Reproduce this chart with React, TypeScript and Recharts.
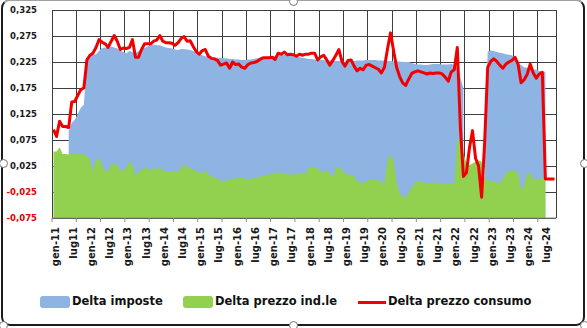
import { ComposedChart, Area, Line, XAxis, YAxis, Legend } from "recharts";

// etichette asse X (una ogni 6 mesi, gen-11 .. lug-24)
const tickLabels = [
  "gen-11", "lug11", "gen-12", "lug12", "gen-13", "lug13", "gen-14", "lug14",
  "gen-15", "lug-15", "gen-16", "lug-16", "gen-17", "lug-17", "gen-18", "lug-18",
  "gen-19", "lug-19", "gen-20", "lug-20", "gen-21", "lug-21", "gen-22", "lug-22",
  "gen-23", "lug-23", "gen-24", "lug-24",
];

const yTicks = [-0.075, -0.025, 0.025, 0.075, 0.125, 0.175, 0.225, 0.275, 0.325];

// Delta imposte (mensile da gen-11)
const imposte: (number | null)[] = [
  null, null, null, null, null, 0.092, 0.108, 0.114, 0.125, 0.137,
  0.143, 0.229, 0.236, 0.239, 0.24, 0.246, 0.252, 0.253, 0.252, 0.255,
  0.253, 0.251, 0.247, 0.244, 0.242, 0.246, 0.244, 0.242, 0.246, 0.249,
  0.252, 0.255, 0.258, 0.258, 0.257, 0.257, 0.255, 0.253, 0.252, 0.251,
  0.249, 0.248, 0.25, 0.25, 0.249, 0.248, 0.246, 0.243, 0.24, 0.238,
  0.236, 0.235, 0.234, 0.233, 0.233, 0.233, 0.232, 0.232, 0.231, 0.231,
  0.23, 0.23, 0.229, 0.229, 0.23, 0.23, 0.231, 0.232, 0.233, 0.233,
  0.234, 0.235, 0.236, 0.237, 0.238, 0.239, 0.239, 0.238, 0.237, 0.236,
  0.235, 0.234, 0.233, 0.232, 0.231, 0.231, 0.23, 0.229, 0.229, 0.229,
  0.228, 0.228, 0.228, 0.227, 0.227, 0.226, 0.226, 0.226, 0.227, 0.227,
  0.228, 0.228, 0.228, 0.229, 0.229, 0.229, 0.229, 0.228, 0.228, 0.228,
  0.227, 0.227, 0.226, 0.226, 0.226, 0.225, 0.225, 0.225, 0.223, 0.221,
  0.22, 0.22, 0.219, 0.219, 0.22, 0.221, 0.221, 0.221, 0.22, 0.22,
  0.22, 0.221, 0.219, 0.215, 0.195, 0.175, null, null, null, null,
  null, null, 0.085, 0.245, 0.247, 0.246, 0.244, 0.243, 0.242, 0.24,
  0.239, 0.238, 0.234, 0.222, 0.219, 0.215, 0.214, 0.213, 0.211, 0.21,
  0.208, 0.207, 0.206,
];

// Delta prezzo ind.le
const prezzoInd: (number | null)[] = [
  0.053, 0.053, 0.061, 0.048, 0.048, 0.047, 0.048, 0.048, 0.048, 0.049,
  0.047, 0.044, 0.037, 0.015, 0.037, 0.039, 0.028, 0.015, 0.016, 0.028,
  0.029, 0.028, 0.016, 0.018, 0.021, 0.033, 0.028, 0.008, 0.013, 0.018,
  0.021, 0.021, 0.015, 0.022, 0.018, 0.022, 0.018, 0.015, 0.015, 0.015,
  0.016, 0.013, 0.021, 0.028, 0.022, 0.021, 0.018, 0.015, 0.013, 0.011,
  0.016, 0.008, 0.005, 0.003, 0.001, -0.003, -0.006, -0.003, -0.001, 0.001,
  0.001, 0.002, 0.003, 0.001, -0.001, 0.001, 0.001, 0.002, 0.005, 0.007,
  0.008, 0.008, 0.01, 0.011, 0.013, 0.011, 0.01, 0.01, 0.008, 0.008,
  0.01, 0.011, 0.012, 0.01, 0.022, 0.022, 0.022, 0.02, 0.013, 0.015,
  0.015, 0.012, 0.004, 0.02, 0.022, 0.018, 0.011, 0.008, 0.008, 0.006,
  -0.005, -0.007, -0.007, -0.005, -0.002, -0.002, -0.002, -0.003, -0.006, -0.008,
  0.035, 0.047, 0.035, -0.008, -0.028, -0.033, -0.036, -0.026, -0.015, -0.008,
  -0.005, -0.003, -0.008, -0.009, -0.007, -0.007, -0.007, -0.007, -0.008, -0.011,
  -0.008, -0.008, -0.008, 0.075, 0.072, 0.05, 0.03, 0.027, 0.03, 0.033,
  0.036, 0.033, 0.001, -0.002, -0.004, -0.005, -0.006, -0.01, 0.001, 0.011,
  0.015, 0.017, 0.015, 0.011, -0.02, -0.015, 0.011, 0.011, -0.001, -0.001,
  0.001, 0.001, 0.001,
];

// Delta prezzo consumo
const consumo: number[] = [
  0.095, 0.082, 0.111, 0.101, 0.101, 0.099, 0.148, 0.149, 0.161, 0.172,
  0.175, 0.229, 0.238, 0.242, 0.253, 0.268, 0.263, 0.26, 0.253, 0.265,
  0.276, 0.265, 0.249, 0.252, 0.251, 0.253, 0.268, 0.234, 0.234, 0.249,
  0.26, 0.26, 0.26, 0.265, 0.267, 0.276, 0.265, 0.262, 0.262, 0.261,
  0.257, 0.262, 0.27, 0.274, 0.265, 0.266, 0.255, 0.245, 0.24, 0.247,
  0.249, 0.236, 0.232, 0.231, 0.228, 0.219, 0.221, 0.223, 0.213, 0.225,
  0.22, 0.221, 0.215, 0.213, 0.22, 0.223, 0.224, 0.226, 0.23, 0.233,
  0.233, 0.233, 0.234, 0.23, 0.242, 0.24, 0.244, 0.239, 0.24, 0.239,
  0.236, 0.24, 0.238, 0.24, 0.24, 0.242, 0.242, 0.229, 0.235, 0.238,
  0.229, 0.219, 0.228, 0.238, 0.249, 0.226, 0.217, 0.228, 0.229, 0.217,
  0.208, 0.213, 0.21, 0.219, 0.22, 0.217, 0.214, 0.211, 0.204, 0.215,
  0.25, 0.281, 0.247, 0.215, 0.197, 0.185, 0.18, 0.192, 0.203, 0.206,
  0.208, 0.206, 0.204, 0.202, 0.204, 0.203, 0.204, 0.204, 0.202, 0.196,
  0.188, 0.206, 0.21, 0.253, 0.1, 0.005, 0.012, 0.06, 0.093, 0.04,
  0.025, -0.035, 0.07, 0.215, 0.226, 0.231, 0.226, 0.219, 0.213, 0.221,
  0.225, 0.228, 0.234, 0.221, 0.185, 0.191, 0.201, 0.221, 0.204, 0.194,
  0.202, 0.205, 0, 0, 0, 0,
];

const months = consumo.length;

const data = consumo.map((c, i) => ({
  x: i + 0.5,
  imposte: imposte[i] ?? null,
  ind: prezzoInd[i] ?? null,
  consumo: c,
}));

// etichette a metà mese, tacche ogni 8 mesi
const labelTicks = tickLabels.map((_, k) => k * 6 + 0.5);
const markTicks = Array.from({ length: 21 }, (_, k) => k * 8);
const xTicks = [...labelTicks, ...markTicks].sort((a, b) => a - b);
const gridX = [...markTicks, months];

const W = 587;
const H = 328;
const PLOT_TOP = 10;
const PLOT_RIGHT = W - 31;
const GRID = "#3f3f3f";

const fmt = (v: number) => v.toFixed(3).replace(".", ",");

const XTick = ({ x, y, payload }: any) => {
  const v = payload.value;
  if (Number.isInteger(v)) {
    return <path d={`M${x},${y}V${y + 4}`} stroke="#8c8c8c" />;
  }
  const k = Math.round((v - 0.5) / 6);
  return (
    <text
      transform={`translate(${x + 1.5},${y + 9}) rotate(-90)`}
      textAnchor="end"
      dominantBaseline="central"
      fontSize={10}
      fontWeight="bold"
      fill="#1a1a1a"
    >
      {tickLabels[k]}
    </text>
  );
};

const YTick = ({ x, y, payload }: any) => (
  <text
    x={x}
    y={y}
    dy="0.35em"
    textAnchor="end"
    fontSize={8.5}
    fontWeight="bold"
    fill={payload.value < 0 ? "#e00000" : "#1a1a1a"}
  >
    {fmt(payload.value)}
  </text>
);

// linee della griglia, disegnate in un grafico sottostante
const GridV = ({ x, y }: any) => (
  <path d={`M${x},${PLOT_TOP}V${y}`} stroke={GRID} strokeWidth={1} shapeRendering="crispEdges" />
);
const GridH = ({ x, y }: any) => (
  <path d={`M${x},${y}H${PLOT_RIGHT}`} stroke={GRID} strokeWidth={1} shapeRendering="crispEdges" />
);

const legendText = { fontSize: 11.5, fontWeight: "bold" as const, color: "#111" };

const renderLegend = () => (
  <div style={{ position: "relative", width: W, height: 20 }}>
    <div style={{ position: "absolute", left: 40, top: 4, width: 30, height: 12, background: "#8db4e2", borderRadius: 3 }} />
    <span style={{ ...legendText, position: "absolute", left: 72, top: 2 }}>Delta imposte</span>
    <div style={{ position: "absolute", left: 183, top: 4, width: 30, height: 12, background: "#92d050", borderRadius: 3 }} />
    <span style={{ ...legendText, position: "absolute", left: 215, top: 2 }}>Delta prezzo ind.le</span>
    <div style={{ position: "absolute", left: 358, top: 8.5, width: 28, height: 3, background: "#f00000" }} />
    <span style={{ ...legendText, position: "absolute", left: 388, top: 2 }}>Delta prezzo consumo</span>
  </div>
);

const handle = (left: number, top: number) => (
  <div
    style={{
      position: "absolute",
      left: left - 4,
      top: top - 4,
      width: 7,
      height: 7,
      borderRadius: "50%",
      background: "#fff",
      border: "1px solid #777",
    }}
  />
);

const App = () => {
  return (
    <div
      style={{
        position: "fixed",
        left: 0,
        top: 0,
        width: W,
        height: H,
        background: "#fff",
        fontFamily: "'DejaVu Sans', sans-serif",
        overflow: "hidden",
      }}
    >
      <div
        style={{
          position: "absolute",
          left: 1,
          top: -1,
          width: 580,
          height: 323,
          border: "2px solid #1c1c1c",
          borderTopColor: "#a0a0a0",
          borderRadius: 9,
        }}
      />
      {/* griglia sotto le aree */}
      <div style={{ position: "absolute", left: 0, top: 0 }}>
        <ComposedChart
          width={W}
          height={H}
          data={data}
          margin={{ top: PLOT_TOP, right: 31, left: 0, bottom: 58 }}
        >
          <XAxis
            dataKey="x"
            type="number"
            domain={[0, months]}
            ticks={gridX}
            interval={0}
            tick={<GridV />}
            tickLine={false}
            tickSize={0}
            tickMargin={0}
            axisLine={false}
            height={52}
            allowDataOverflow
          />
          <YAxis
            type="number"
            domain={[-0.075, 0.325]}
            ticks={yTicks}
            interval={0}
            tick={<GridH />}
            tickLine={false}
            tickSize={0}
            tickMargin={0}
            axisLine={false}
            width={52}
            allowDataOverflow
          />
        </ComposedChart>
      </div>
      <ComposedChart
        width={W}
        height={H}
        data={data}
        margin={{ top: PLOT_TOP, right: 31, left: 0, bottom: 38 }}
      >
        <XAxis
          dataKey="x"
          type="number"
          domain={[0, months]}
          ticks={xTicks}
          interval={0}
          tick={<XTick />}
          tickLine={false}
          tickSize={0}
          tickMargin={0}
          axisLine={{ stroke: "#8c8c8c" }}
          height={52}
          allowDataOverflow
        />
        <YAxis
          type="number"
          domain={[-0.075, 0.325]}
          ticks={yTicks}
          interval={0}
          tick={<YTick />}
          tickLine={false}
          tickSize={0}
          tickMargin={15}
          axisLine={false}
          width={52}
          allowDataOverflow
        />
        <Legend
          verticalAlign="bottom"
          content={renderLegend}
          wrapperStyle={{ left: 0, top: 292, bottom: "auto", width: W, height: 20 }}
        />
        <Area
          dataKey="imposte"
          type="linear"
          fill="#8db4e2"
          fillOpacity={1}
          stroke="none"
          baseValue="dataMin"
          isAnimationActive={false}
        />
        <Area
          dataKey="ind"
          type="linear"
          fill="#92d050"
          fillOpacity={1}
          stroke="none"
          baseValue="dataMin"
          isAnimationActive={false}
        />
        <Line
          dataKey="consumo"
          type="linear"
          stroke="#f00000"
          strokeWidth={3}
          strokeLinejoin="round"
          dot={false}
          activeDot={false}
          isAnimationActive={false}
        />
      </ComposedChart>
      {handle(3, 163)}
      {handle(584, 163)}
      {handle(293, 1)}
      {handle(293, 325)}
      {handle(3, 325)}
      {handle(584, 325)}
    </div>
  );
};

export default App;
